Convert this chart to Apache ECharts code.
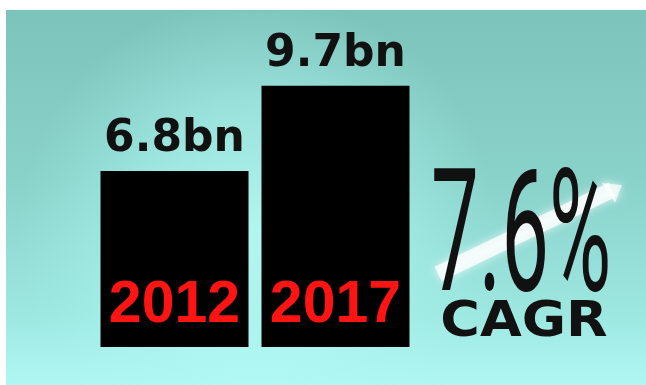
<!DOCTYPE html>
<html>
<head>
<meta charset="utf-8">
<script src="https://cdn.jsdelivr.net/npm/echarts@6/dist/echarts.min.js"></script>
<style>
  html, body { margin: 0; padding: 0; background: #ffffff; }
  #chart { width: 646px; height: 385px; }
</style>
</head>
<body>
<div id="chart"></div>
<script>
// Revenue by year, in billions
const years = ['2012', '2017'];
const revenueBn = [6.8, 9.7];
// Growth callout
const cagrText = '7.6%';
const cagrCaption = 'CAGR';

const chart = echarts.init(document.getElementById('chart'), null, { renderer: 'canvas' });

chart.setOption({
  backgroundColor: '#ffffff',
  animation: false,
  graphic: [
    // teal panel
    {
      type: 'rect', z: -10, silent: true,
      shape: { x: 6, y: 10, width: 640, height: 375 },
      style: {
        fill: {
          type: 'linear', x: 0, y: 0, x2: 0, y2: 1,
          colorStops: [
            { offset: 0, color: '#7cc3bb' },
            { offset: 0.45, color: '#89d2ca' },
            { offset: 0.82, color: '#9ee8e2' },
            { offset: 1, color: '#b0f7f3' }
          ]
        }
      }
    },
    // soft glow behind the bars
    {
      type: 'circle', z: -9, silent: true,
      shape: { cx: 258, cy: 235, r: 240 },
      style: {
        fill: {
          type: 'radial', x: 0.5, y: 0.5, r: 0.5,
          colorStops: [
            { offset: 0, color: 'rgba(190,255,251,0.75)' },
            { offset: 0.55, color: 'rgba(180,252,247,0.45)' },
            { offset: 1, color: 'rgba(170,245,240,0)' }
          ]
        }
      }
    },
    // white frame on top and left
    { type: 'rect', z: -8, silent: true, shape: { x: 0, y: 0, width: 646, height: 10 }, style: { fill: '#ffffff' } },
    { type: 'rect', z: -8, silent: true, shape: { x: 0, y: 0, width: 6, height: 385 }, style: { fill: '#ffffff' } },
    // rising arrow behind the percentage
    {
      type: 'polyline', z: -5, silent: true,
      shape: { points: [[438, 274], [612, 190]] },
      style: {
        stroke: 'rgba(255,255,255,0.75)', lineWidth: 16, fill: null,
        shadowBlur: 10, shadowColor: 'rgba(255,255,255,0.9)'
      }
    },
    {
      type: 'polygon', z: -5, silent: true,
      shape: { points: [[622, 185], [615, 203], [602, 183]] },
      style: {
        fill: 'rgba(255,255,255,0.7)',
        shadowBlur: 10, shadowColor: 'rgba(255,255,255,0.9)'
      }
    },
    // growth rate
    {
      type: 'text', z: 20, silent: true,
      x: 431, y: 247, scaleX: 0.5,
      style: {
        text: cagrText,
        font: 'normal 170px Roboto',
        fill: '#111111',
        align: 'left',
        verticalAlign: 'middle'
      }
    },
    {
      type: 'text', z: 20, silent: true,
      x: 524, y: 323, scaleX: 1.08,
      style: {
        text: cagrCaption,
        font: 'bold 50px "DejaVu Sans"',
        fill: '#111111',
        align: 'center',
        verticalAlign: 'middle'
      }
    }
  ],
  grid: { left: 94, right: 230, top: 77, bottom: 38 },
  xAxis: {
    type: 'category',
    data: years,
    z: 10,
    axisLine: { show: false },
    axisTick: { show: false },
    axisLabel: {
      interval: 0,
      hideOverlap: false,
      color: '#ff1414',
      fontFamily: 'Liberation Sans',
      fontWeight: 'bold',
      fontSize: 59,
      margin: -41,
      verticalAlign: 'middle'
    }
  },
  yAxis: { type: 'value', min: 0.8, max: 10, show: false },
  series: [{
    type: 'bar',
    data: revenueBn,
    barWidth: 148,
    itemStyle: { color: '#000000' },
    label: {
      show: true,
      position: 'top',
      distance: 9,
      formatter: p => p.value + 'bn',
      color: '#111111',
      fontFamily: 'DejaVu Sans',
      fontWeight: 'bold',
      fontSize: 44
    }
  }]
});
</script>
</body>
</html>
